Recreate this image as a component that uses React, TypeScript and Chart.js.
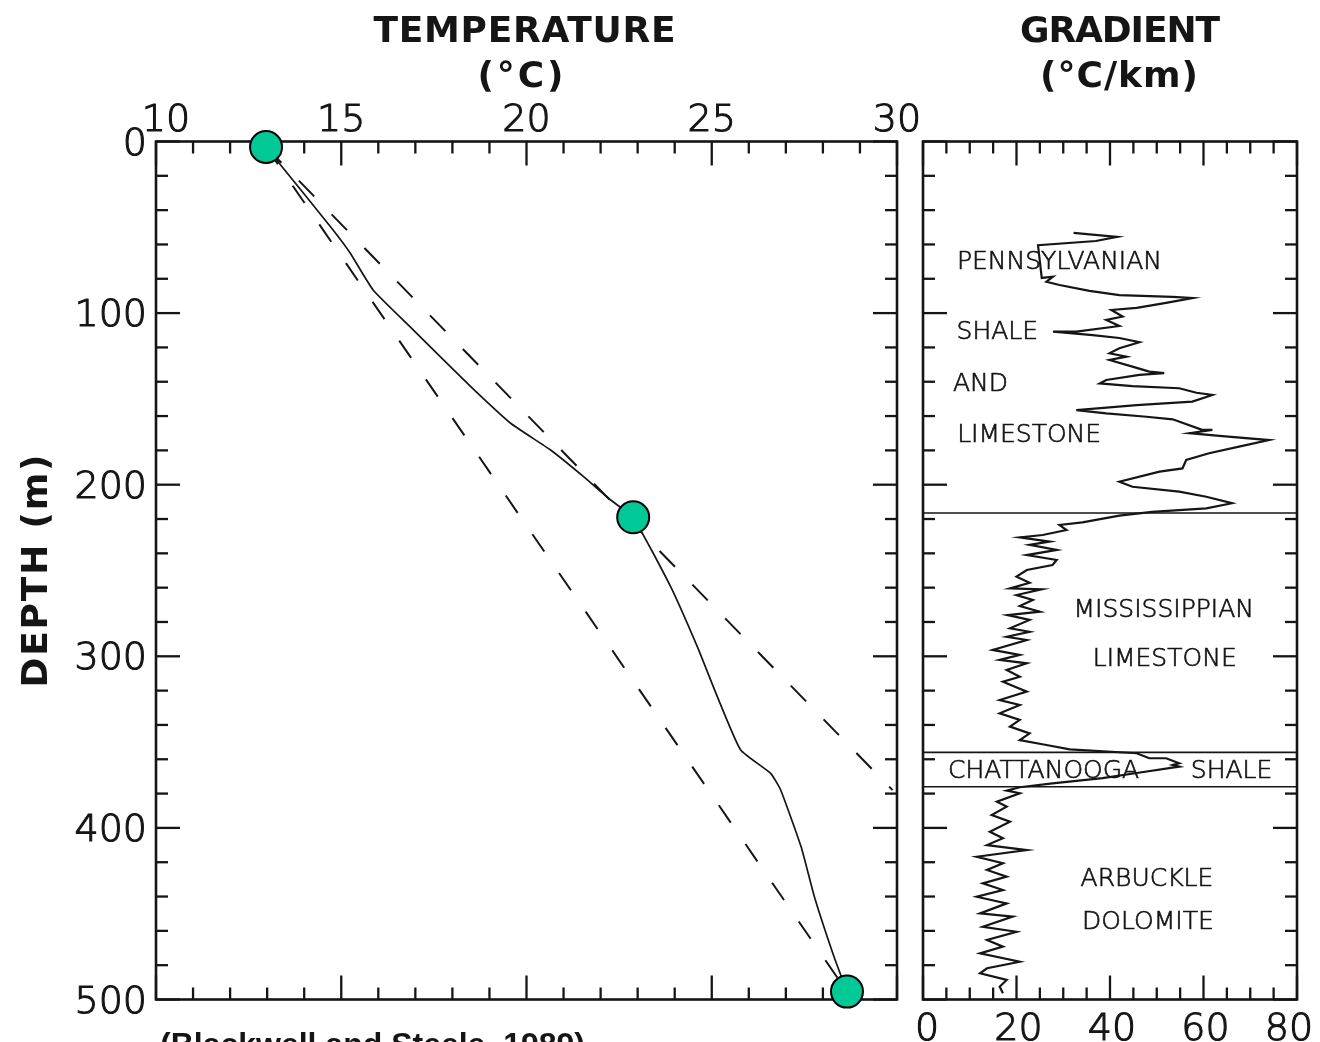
import React, { useEffect, useRef } from "react";
import { Chart, registerables } from "chart.js";

Chart.register(...registerables);

// ---------- DATA ----------
const tempTickLabels = [10, 15, 20, 25, 30];
const depthTickLabels = [0, 100, 200, 300, 400, 500];
const gradientTickLabels = [0, 20, 40, 60, 80];

// measured temperature profile (°C vs depth m)
const profileTemp = [12.97, 13.9, 14.78, 15.24, 15.86, 16.86, 17.76, 18.68, 19.57, 20.65, 21.54, 22.27, 22.88, 23.89, 24.61, 25.15, 25.78, 26.59, 26.86, 27.41, 27.77, 28.3, 28.65];
const profileDepth = [3.2, 28, 51.6, 65, 86.5, 108, 127.3, 146.7, 164.2, 179.8, 195.3, 208.9, 219.2, 259.4, 294.4, 323.5, 354.6, 368.2, 377.9, 410.9, 440.1, 475.1, 495.4];

// dashed reference lines
const fitUpperTemp = [12.97, 29.88];
const fitUpperDepth = [3.2, 378];
const fitLowerTemp = [12.97, 28.65];
const fitLowerDepth = [3.2, 495.4];

// highlighted points
const markerTemp = [12.97, 22.88, 28.65];
const markerDepth = [3.2, 219, 495.4];

// gradient log (°C/km vs depth m)
const gradientValue = [32.2, 41.5, 37, 24.6, 25, 25.4, 27.8, 26.4, 29.2, 35.6, 42, 53.4, 57.6, 52, 45.7, 40.3, 42.7, 39.2, 42, 32.8, 27.8, 36.3, 42, 46.3, 42, 39.9, 43.5, 39.9, 44.8, 48.4, 51.6, 46.3, 39.2, 37.8, 44.8, 54.8, 58.5, 61.9, 57.6, 45.7, 32.8, 39.2, 47.8, 53.4, 59.7, 61.9, 57, 63.4, 74, 67.6, 61.2, 56.3, 55.5, 50.6, 42, 44.8, 54.8, 60.6, 66.1, 60.6, 49, 42, 34.1, 29.2, 30.7, 25.6, 20.7, 27.1, 22.8, 28.6, 22.2, 28.6, 27.7, 22.2, 20, 22.8, 18.6, 25.4, 20, 23.5, 20.7, 25, 18.1, 22.8, 18.6, 22.8, 17.9, 22.2, 14.9, 20.7, 16.4, 22.2, 17.9, 20.7, 17.1, 22.2, 16.4, 20.7, 16.4, 20.7, 18.6, 22.8, 20.7, 26.4, 31.4, 45.7, 48.4, 52, 54.8, 53.4, 54.8, 45.7, 38.4, 27.7, 20.7, 17.9, 20.7, 15.8, 17.9, 14.7, 18.6, 14.3, 17.1, 13.7, 22.2, 11.5, 17.1, 13.7, 17.9, 12.8, 17.1, 11.5, 17.9, 12.2, 19.2, 12.8, 20, 13.7, 17.1, 12.2, 20.7, 13.7, 12.2, 17.9, 16.4, 17.1];
const gradientDepth = [53.3, 55.6, 58, 60.4, 70, 79.5, 78.8, 81.7, 83.6, 87, 89.5, 90.6, 91.2, 94, 97, 98.2, 102, 104, 107.5, 110.8, 110.8, 112.8, 114.5, 117, 120.5, 123.4, 125.4, 127.3, 131.2, 134.1, 135, 136, 139, 141, 142.5, 143.8, 146.4, 147.7, 151.6, 153.6, 156.5, 158.4, 160.4, 161.9, 168, 168, 170, 171.6, 174, 177.8, 181.7, 185.6, 190.5, 192.4, 198.3, 201.2, 204, 207, 210.8, 213.8, 215.8, 218, 222, 223.5, 226.4, 229.3, 230.7, 233.2, 235.1, 238, 241, 243.9, 246.8, 249.7, 253.6, 257.1, 260.4, 261, 264.3, 267.2, 270.7, 274, 276, 278.8, 283.7, 285.7, 288.6, 290.5, 296.3, 299.2, 302.1, 304.1, 308, 311.9, 314.8, 320.6, 325.5, 328.4, 333.2, 337.1, 341, 344.9, 348.8, 351.7, 354.2, 356.5, 359.4, 359.4, 362.3, 363.3, 364.3, 368, 371, 374, 376.3, 378.3, 379.8, 384.7, 387.6, 392.5, 396.4, 402.2, 406, 410, 412.9, 416.8, 420.6, 424.5, 428.4, 432.3, 436.2, 440.1, 444, 449.8, 451.7, 457.6, 460.5, 465.3, 469.2, 473.1, 478, 481.8, 484.7, 488.6, 492.5, 496.4];

// formation boundaries (m)
const boundaryDepths = [216.5, 356, 376];

// formation labels (anchor: gradient value at centre, depth at centre)
const unitLabelText = ["PENNSYLVANIAN", "SHALE", "AND", "LIMESTONE", "MISSISSIPPIAN", "LIMESTONE", "CHATTANOOGA", "SHALE", "ARBUCKLE", "DOLOMITE"];
const unitLabelGradient = [29.2, 15.9, 12.3, 22.7, 51.5, 51.7, 25.8, 66, 47.9, 48.1];
const unitLabelDepth = [69, 109.8, 140, 170, 271.8, 300.4, 365.7, 365.7, 428.6, 453.7];

const titleLeft = ["TEMPERATURE", "(°C)"];
const titleRight = ["GRADIENT", "(°C/km)"];
const depthTitle = "DEPTH (m)";
const caption = "(Blackwell and Steele, 1989)";

// ---------- STYLE ----------
const W = 1320;
const H = 1042;
const INK = "#151515";
const NUM_FONT = "200 38px 'DejaVu Sans'";
const TITLE_FONT = "bold 36px 'DejaVu Sans'";
const UNIT_FONT = "200 25px 'DejaVu Sans'";

function fitText(ctx: CanvasRenderingContext2D, text: string, x: number, y: number, width: number, stroke = 0) {
  ctx.save();
  (ctx as any).letterSpacing = "0px";
  const w = ctx.measureText(text).width;
  const n = text.length;
  const ls = n > 1 ? (width - w) / (n - 1) : 0;
  (ctx as any).letterSpacing = ls + "px";
  ctx.textAlign = "left";
  ctx.fillText(text, x - width / 2, y);
  if (stroke > 0) {
    ctx.lineWidth = stroke;
    ctx.strokeText(text, x - width / 2, y);
  }
  ctx.restore();
}

function heavyText(ctx: CanvasRenderingContext2D, text: string, x: number, y: number, stroke: number) {
  ctx.fillText(text, x, y);
  ctx.save();
  ctx.lineWidth = stroke;
  ctx.strokeText(text, x, y);
  ctx.restore();
}

function line(ctx: CanvasRenderingContext2D, x1: number, y1: number, x2: number, y2: number) {
  ctx.beginPath();
  ctx.moveTo(x1, y1);
  ctx.lineTo(x2, y2);
  ctx.stroke();
}

function drawFrame(chart: any, xMin: number, xMax: number, xMinor: number, xMajor: number, yMin: number, yMax: number, yMinor: number, yMajor: number) {
  const { ctx, chartArea: a, scales } = chart;
  const xs = scales.x;
  const ys = scales.y;
  ctx.save();
  ctx.strokeStyle = INK;
  ctx.lineWidth = 2.6;
  ctx.strokeRect(a.left, a.top, a.right - a.left, a.bottom - a.top);
  ctx.lineWidth = 2.3;
  const isMajor = (v: number, s: number) => Math.abs(v / s - Math.round(v / s)) < 1e-6;
  for (let v = xMin; v <= xMax + 1e-9; v += xMinor) {
    const px = xs.getPixelForValue(v);
    const L = isMajor(v, xMajor) ? 24 : 12;
    line(ctx, px, a.top, px, a.top + L);
    line(ctx, px, a.bottom, px, a.bottom - L);
  }
  for (let v = yMin; v <= yMax + 1e-9; v += yMinor) {
    const py = ys.getPixelForValue(v);
    const L = isMajor(v, yMajor) ? 24 : 12;
    line(ctx, a.left, py, a.left + L, py);
    line(ctx, a.right, py, a.right - L, py);
  }
  ctx.restore();
}

const leftDecor = {
  id: "leftDecor",
  beforeDatasetsDraw(chart: any) {
    const { ctx, chartArea: a, scales } = chart;
    drawFrame(chart, 10, 30, 1, 5, 0, 500, 20, 100);
    ctx.save();
    ctx.fillStyle = INK;
    ctx.strokeStyle = INK;
    // top temperature labels
    ctx.font = NUM_FONT;
    ctx.textAlign = "center";
    ctx.textBaseline = "alphabetic";
    tempTickLabels.forEach((t, i) => {
      const px = scales.x.getPixelForValue(t) + (i === 0 ? 10 : 0);
      heavyText(ctx, String(t), px, a.top - 11, 1.1);
    });
    // depth labels
    ctx.textAlign = "right";
    depthTickLabels.forEach((d) => {
      const py = scales.y.getPixelForValue(d);
      heavyText(ctx, String(d), a.left - 9, py + 13, 1.1);
    });
    // titles
    ctx.font = TITLE_FONT;
    const cx = (a.left + a.right) / 2 - 2;
    fitText(ctx, titleLeft[0], cx, 42, 302);
    fitText(ctx, titleLeft[1], cx - 4, 87, 86);
    // depth title, rotated
    ctx.save();
    ctx.translate(47, 571);
    ctx.rotate(-Math.PI / 2);
    fitText(ctx, depthTitle, 0, 0, 233);
    ctx.restore();
    // caption
    ctx.font = "bold 32px 'Liberation Sans'";
    fitText(ctx, caption, 160 + 425 / 2, 1055, 425);
    ctx.restore();
  },
};

const rightDecor = {
  id: "rightDecor",
  beforeDatasetsDraw(chart: any) {
    const { ctx, chartArea: a, scales } = chart;
    drawFrame(chart, 0, 80, 5, 20, 0, 500, 20, 100);
    ctx.save();
    ctx.strokeStyle = INK;
    ctx.lineWidth = 1.6;
    boundaryDepths.forEach((d) => {
      const py = scales.y.getPixelForValue(d);
      line(ctx, a.left, py, a.right, py);
    });
    ctx.fillStyle = INK;
    ctx.font = NUM_FONT;
    ctx.textAlign = "center";
    ctx.textBaseline = "alphabetic";
    gradientTickLabels.forEach((g, i) => {
      const px = scales.x.getPixelForValue(g) + (i === 0 ? 4 : i === 4 ? -8 : 2);
      heavyText(ctx, String(g), px, a.bottom + 40, 1.1);
    });
    ctx.font = UNIT_FONT;
    ctx.textAlign = "center";
    unitLabelText.forEach((t, i) => {
      const px = scales.x.getPixelForValue(unitLabelGradient[i]);
      const py = scales.y.getPixelForValue(unitLabelDepth[i]);
      heavyText(ctx, t, px, py + 9, 0.7);
    });
    ctx.font = TITLE_FONT;
    fitText(ctx, titleRight[0], 1120, 42, 200);
    fitText(ctx, titleRight[1], 1119, 87, 158);
    ctx.restore();
  },
};

const pts = (xs: number[], ys: number[]) => xs.map((x, i) => ({ x, y: ys[i] }));

const baseOptions = (xMin: number, xMax: number, padLeft: number, padRight: number) => ({
  responsive: false,
  animation: false as const,
  events: [] as any[],
  layout: { padding: { left: padLeft, right: padRight, top: 141.5, bottom: H - 999.5 } },
  plugins: { legend: { display: false }, tooltip: { enabled: false }, title: { display: false } },
  scales: {
    x: { type: "linear" as const, min: xMin, max: xMax, display: false },
    y: { type: "linear" as const, min: 0, max: 500, reverse: true, display: false },
  },
});

export default function App() {
  const leftRef = useRef<HTMLCanvasElement>(null);
  const rightRef = useRef<HTMLCanvasElement>(null);

  useEffect(() => {
    const left = new Chart(leftRef.current!, {
      type: "scatter",
      data: {
        datasets: [
          {
            data: pts(markerTemp, markerDepth),
            pointRadius: 16,
            pointBackgroundColor: "#00C896",
            pointBorderColor: "#000",
            pointBorderWidth: 2,
            showLine: false,
            clip: false,
            order: 0,
          } as any,
          {
            data: pts(profileTemp, profileDepth),
            showLine: true,
            borderColor: INK,
            borderWidth: 1.7,
            pointRadius: 0,
            tension: 0.15,
            order: 1,
          },
          {
            data: pts(fitUpperTemp, fitUpperDepth),
            showLine: true,
            borderColor: INK,
            borderWidth: 2,
            borderDash: [22, 25],
            pointRadius: 0,
            order: 2,
          },
          {
            data: pts(fitLowerTemp, fitLowerDepth),
            showLine: true,
            borderColor: INK,
            borderWidth: 2,
            borderDash: [21, 26],
            pointRadius: 0,
            order: 3,
          },
        ],
      },
      options: baseOptions(10, 30, 156, W - 897) as any,
      plugins: [leftDecor],
    });
    const right = new Chart(rightRef.current!, {
      type: "scatter",
      data: {
        datasets: [
          {
            data: pts(gradientValue, gradientDepth),
            showLine: true,
            borderColor: INK,
            borderWidth: 2.2,
            pointRadius: 0,
            tension: 0,
          },
        ],
      },
      options: baseOptions(0, 80, 923, W - 1297) as any,
      plugins: [rightDecor],
    });
    return () => {
      left.destroy();
      right.destroy();
    };
  }, []);

  return (
    <div style={{ position: "fixed", left: 0, top: 0, width: W, height: H, background: "#fff", overflow: "hidden" }}>
      <canvas ref={leftRef} width={W} height={H} style={{ position: "absolute", left: 0, top: 0 }} />
      <canvas ref={rightRef} width={W} height={H} style={{ position: "absolute", left: 0, top: 0 }} />
    </div>
  );
}
